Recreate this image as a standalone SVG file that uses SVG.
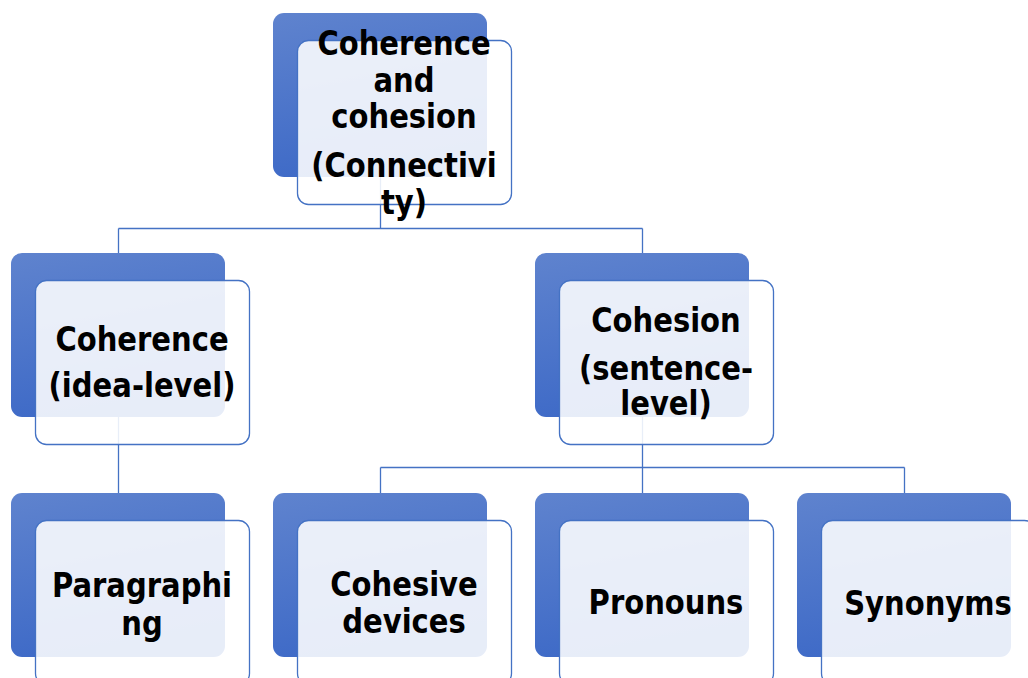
<svg xmlns="http://www.w3.org/2000/svg" width="1028" height="678" viewBox="0 0 1028 678">
<defs>
<linearGradient id="bg" x1="0" y1="0" x2="0.25" y2="1">
<stop offset="0" stop-color="#5F83CE"/>
<stop offset="1" stop-color="#3E6AC7"/>
</linearGradient>
<style>
.back{fill:url(#bg);}
.front{fill:#FFFFFF;fill-opacity:0.88;stroke:#4472C4;stroke-width:1.3;}
.conn{fill:none;stroke:#4472C4;stroke-width:1.3;}
text{font-family:"DejaVu Sans",Verdana,sans-serif;font-weight:bold;font-size:33px;fill:#000;text-anchor:middle;}
</style>
</defs>
<rect width="1028" height="678" fill="#FFFFFF"/>
<g id="connectors">
<path class="conn" d="M380.5,177 V228.5 M118.5,228.5 H642.5 M118.5,228.5 V253 M642.5,228.5 V253"/>
<path class="conn" d="M118.5,417 V493"/>
<path class="conn" d="M642.5,417 V467.5 M380.5,467.5 H904.5 M380.5,467.5 V493 M642.5,467.5 V493 M904.5,467.5 V493"/>
</g>
<g id="node-top">
<rect class="back" x="273" y="13" width="214" height="164" rx="11"/>
<rect class="front" x="297.5" y="40.5" width="214" height="164" rx="11"/>
<g transform="translate(404 0) scale(0.88 1)">
<text x="0" y="55">Coherence</text>
<text x="0" y="92">and</text>
<text x="0" y="128">cohesion</text>
<text x="0" y="177">(Connectivi</text>
<text x="0" y="214">ty)</text>
</g>
</g>
<g id="node-coherence">
<rect class="back" x="11" y="253" width="214" height="164" rx="11"/>
<rect class="front" x="35.5" y="280.5" width="214" height="164" rx="11"/>
<g transform="translate(142 0) scale(0.88 1)">
<text x="0" y="351">Coherence</text>
<text x="0" y="397">(idea-level)</text>
</g>
</g>
<g id="node-cohesion">
<rect class="back" x="535" y="253" width="214" height="164" rx="11"/>
<rect class="front" x="559.5" y="280.5" width="214" height="164" rx="11"/>
<g transform="translate(666 0) scale(0.88 1)">
<text x="0" y="332">Cohesion</text>
<text x="0" y="380">(sentence-</text>
<text x="0" y="415">level)</text>
</g>
</g>
<g id="node-paragraphing">
<rect class="back" x="11" y="493" width="214" height="164" rx="11"/>
<rect class="front" x="35.5" y="520.5" width="214" height="164" rx="11"/>
<g transform="translate(142 0) scale(0.88 1)">
<text x="0" y="597">Paragraphi</text>
<text x="0" y="635">ng</text>
</g>
</g>
<g id="node-cohesive-devices">
<rect class="back" x="273" y="493" width="214" height="164" rx="11"/>
<rect class="front" x="297.5" y="520.5" width="214" height="164" rx="11"/>
<g transform="translate(404 0) scale(0.88 1)">
<text x="0" y="596">Cohesive</text>
<text x="0" y="633">devices</text>
</g>
</g>
<g id="node-pronouns">
<rect class="back" x="535" y="493" width="214" height="164" rx="11"/>
<rect class="front" x="559.5" y="520.5" width="214" height="164" rx="11"/>
<g transform="translate(666 0) scale(0.88 1)">
<text x="0" y="614">Pronouns</text>
</g>
</g>
<g id="node-synonyms">
<rect class="back" x="797" y="493" width="214" height="164" rx="11"/>
<rect class="front" x="821.5" y="520.5" width="214" height="164" rx="11"/>
<g transform="translate(928 0) scale(0.88 1)">
<text x="0" y="615">Synonyms</text>
</g>
</g>
</svg>
